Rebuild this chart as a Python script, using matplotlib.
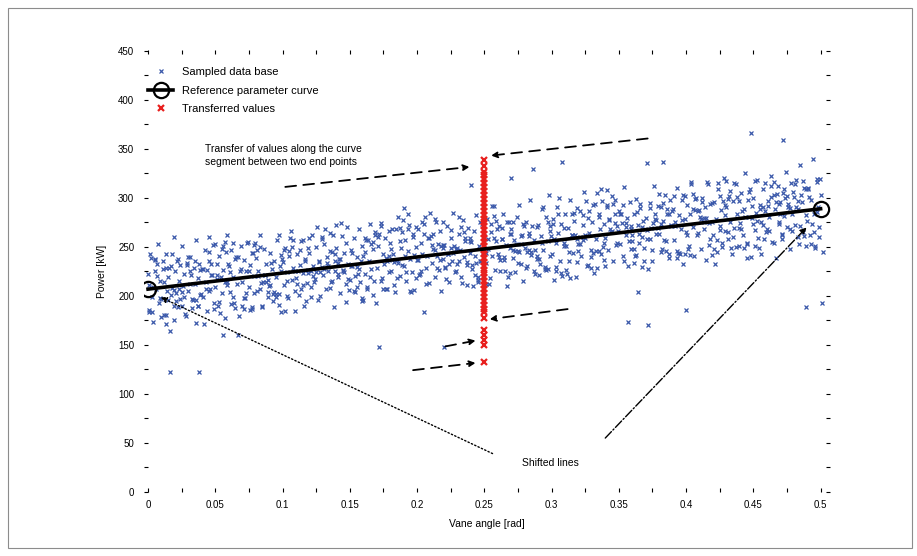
import matplotlib.pyplot as plt
from matplotlib.patches import Rectangle
from matplotlib.ticker import MultipleLocator

plt.rcParams['font.family'] = ['Liberation Sans', 'DejaVu Sans']

# measured samples (x = vane angle, y = power)
sample_x = [
    0.000, 0.001, 0.001, 0.002, 0.003, 0.004, 0.005, 0.006, 0.007, 0.008, 0.009,
    0.010, 0.011, 0.012, 0.013, 0.013, 0.014, 0.015, 0.016, 0.017, 0.018, 0.019,
    0.020, 0.021, 0.022, 0.022, 0.023, 0.024, 0.025, 0.026, 0.027, 0.028, 0.029,
    0.030, 0.031, 0.032, 0.033, 0.034, 0.035, 0.036, 0.036, 0.037, 0.038, 0.039,
    0.040, 0.041, 0.042, 0.043, 0.044, 0.045, 0.046, 0.047, 0.048, 0.049,
    0.050, 0.051, 0.052, 0.053, 0.054, 0.055, 0.056, 0.057, 0.058, 0.059, 0.059,
    0.060, 0.061, 0.062, 0.063, 0.064, 0.065, 0.066, 0.067, 0.068, 0.069,
    0.070, 0.071, 0.072, 0.073, 0.074, 0.075, 0.076, 0.077, 0.078, 0.079, 0.079,
    0.080, 0.081, 0.082, 0.083, 0.084, 0.085, 0.086, 0.087, 0.088, 0.089,
    0.090, 0.091, 0.092, 0.093, 0.094, 0.095, 0.096, 0.097, 0.098, 0.099, 0.099,
    0.100, 0.101, 0.102, 0.103, 0.104, 0.105, 0.106, 0.107, 0.108, 0.109,
    0.110, 0.111, 0.112, 0.113, 0.114, 0.115, 0.116, 0.117, 0.118, 0.119, 0.119,
    0.120, 0.121, 0.122, 0.123, 0.124, 0.125, 0.126, 0.127, 0.128, 0.129,
    0.130, 0.131, 0.132, 0.133, 0.134, 0.135, 0.136, 0.137, 0.138, 0.139, 0.139,
    0.140, 0.141, 0.142, 0.143, 0.144, 0.145, 0.146, 0.147, 0.148, 0.149,
    0.150, 0.151, 0.152, 0.153, 0.154, 0.155, 0.156, 0.157, 0.158, 0.159, 0.159,
    0.160, 0.161, 0.162, 0.163, 0.164, 0.165, 0.166, 0.167, 0.168, 0.169,
    0.170, 0.171, 0.172, 0.173, 0.174, 0.175, 0.176, 0.177, 0.178, 0.179, 0.179,
    0.180, 0.181, 0.182, 0.183, 0.184, 0.185, 0.186, 0.187, 0.188, 0.189,
    0.190, 0.190, 0.191, 0.192, 0.193, 0.194, 0.195, 0.196, 0.197, 0.198, 0.199,
    0.200, 0.201, 0.202, 0.203, 0.204, 0.205, 0.206, 0.207, 0.208, 0.209,
    0.210, 0.211, 0.212, 0.213, 0.214, 0.215, 0.216, 0.217, 0.218, 0.219, 0.219,
    0.220, 0.220, 0.221, 0.222, 0.223, 0.224, 0.225, 0.226, 0.227, 0.228, 0.229,
    0.230, 0.231, 0.232, 0.233, 0.234, 0.235, 0.236, 0.237, 0.238, 0.239,
    0.240, 0.240, 0.241, 0.242, 0.243, 0.244, 0.245, 0.246, 0.247, 0.248, 0.249,
    0.250, 0.251, 0.252, 0.253, 0.254, 0.255, 0.256, 0.257, 0.258, 0.259,
    0.260, 0.261, 0.262, 0.263, 0.264, 0.265, 0.266, 0.267, 0.268, 0.269, 0.269,
    0.270, 0.270, 0.271, 0.272, 0.273, 0.274, 0.275, 0.276, 0.277, 0.278, 0.279,
    0.280, 0.281, 0.282, 0.283, 0.284, 0.285, 0.286, 0.287, 0.288, 0.289,
    0.290, 0.291, 0.292, 0.293, 0.294, 0.295, 0.296, 0.297, 0.298, 0.299, 0.299,
    0.300, 0.301, 0.302, 0.303, 0.304, 0.305, 0.306, 0.307, 0.308, 0.309,
    0.310, 0.311, 0.312, 0.313, 0.314, 0.315, 0.316, 0.317, 0.318, 0.319, 0.319,
    0.320, 0.321, 0.322, 0.323, 0.324, 0.325, 0.326, 0.327, 0.328, 0.329,
    0.330, 0.331, 0.332, 0.333, 0.334, 0.335, 0.336, 0.337, 0.338, 0.339, 0.339,
    0.340, 0.341, 0.342, 0.343, 0.344, 0.345, 0.346, 0.347, 0.348, 0.349,
    0.350, 0.351, 0.352, 0.353, 0.354, 0.355, 0.356, 0.357, 0.358, 0.359, 0.359,
    0.360, 0.361, 0.362, 0.363, 0.364, 0.364, 0.365, 0.366, 0.367, 0.368, 0.369,
    0.370, 0.371, 0.371, 0.372, 0.373, 0.374, 0.375, 0.376, 0.377, 0.378, 0.379,
    0.380, 0.381, 0.382, 0.383, 0.383, 0.384, 0.385, 0.386, 0.387, 0.388, 0.389,
    0.390, 0.391, 0.392, 0.393, 0.394, 0.395, 0.396, 0.397, 0.398, 0.399,
    0.400, 0.400, 0.401, 0.402, 0.403, 0.404, 0.405, 0.406, 0.407, 0.408, 0.409,
    0.410, 0.411, 0.412, 0.413, 0.414, 0.415, 0.416, 0.417, 0.418, 0.419,
    0.420, 0.421, 0.422, 0.423, 0.424, 0.425, 0.426, 0.427, 0.428, 0.429, 0.429,
    0.430, 0.431, 0.432, 0.433, 0.434, 0.435, 0.436, 0.437, 0.438, 0.439,
    0.440, 0.441, 0.442, 0.443, 0.444, 0.445, 0.446, 0.447, 0.448, 0.448, 0.449,
    0.450, 0.451, 0.452, 0.453, 0.454, 0.455, 0.456, 0.457, 0.458, 0.459,
    0.460, 0.461, 0.462, 0.463, 0.464, 0.465, 0.466, 0.467, 0.468, 0.469, 0.469,
    0.470, 0.471, 0.472, 0.472, 0.473, 0.474, 0.475, 0.476, 0.477, 0.478, 0.479,
    0.480, 0.481, 0.482, 0.483, 0.484, 0.485, 0.486, 0.487, 0.488, 0.489, 0.489,
    0.490, 0.491, 0.492, 0.493, 0.494, 0.495, 0.496, 0.497, 0.498, 0.499, 0.500, 0.501, 0.502,
    0.016, 0.038, 0.056, 0.019, 0.045,
    # second measurement run
    0.001, 0.003, 0.005, 0.007, 0.009, 0.011, 0.013, 0.015, 0.017, 0.019,
    0.021, 0.023, 0.025, 0.027, 0.029, 0.031, 0.033, 0.035, 0.037, 0.039,
    0.041, 0.043, 0.045, 0.047, 0.049, 0.051, 0.053, 0.055, 0.057, 0.059,
    0.061, 0.063, 0.065, 0.067, 0.069, 0.071, 0.073, 0.075, 0.077, 0.079,
    0.081, 0.083, 0.085, 0.087, 0.089, 0.091, 0.093, 0.095, 0.097, 0.099,
    0.101, 0.103, 0.105, 0.107, 0.109, 0.111, 0.113, 0.115, 0.117, 0.119,
    0.121, 0.123, 0.125, 0.127, 0.129, 0.131, 0.133, 0.135, 0.137, 0.139,
    0.141, 0.143, 0.145, 0.147, 0.149, 0.151, 0.153, 0.155, 0.157, 0.159,
    0.161, 0.163, 0.165, 0.167, 0.169, 0.171, 0.173, 0.175, 0.177, 0.179,
    0.181, 0.183, 0.185, 0.187, 0.189, 0.191, 0.193, 0.195, 0.197, 0.199,
    0.201, 0.203, 0.205, 0.207, 0.209, 0.211, 0.213, 0.215, 0.217, 0.219,
    0.221, 0.223, 0.225, 0.227, 0.229, 0.231, 0.233, 0.235, 0.237, 0.239,
    0.241, 0.243, 0.245, 0.247, 0.249, 0.251, 0.253, 0.255, 0.257, 0.259,
    0.261, 0.263, 0.265, 0.267, 0.269, 0.271, 0.273, 0.275, 0.277, 0.279,
    0.281, 0.283, 0.285, 0.287, 0.289, 0.291, 0.293, 0.295, 0.297, 0.299,
    0.301, 0.303, 0.305, 0.307, 0.309, 0.311, 0.313, 0.315, 0.317, 0.319,
    0.321, 0.323, 0.325, 0.327, 0.329, 0.331, 0.333, 0.335, 0.337, 0.339,
    0.341, 0.343, 0.345, 0.347, 0.349, 0.351, 0.353, 0.355, 0.357, 0.359,
    0.361, 0.363, 0.365, 0.367, 0.369, 0.371, 0.373, 0.375, 0.377, 0.379,
    0.381, 0.383, 0.385, 0.387, 0.389, 0.391, 0.393, 0.395, 0.397, 0.399,
    0.401, 0.403, 0.405, 0.407, 0.409, 0.411, 0.413, 0.415, 0.417, 0.419,
    0.421, 0.423, 0.425, 0.427, 0.429, 0.431, 0.433, 0.435, 0.437, 0.439,
    0.441, 0.443, 0.445, 0.447, 0.449, 0.451, 0.453, 0.455, 0.457, 0.459,
    0.461, 0.463, 0.465, 0.467, 0.469, 0.471, 0.473, 0.475, 0.477, 0.479,
    0.481, 0.483, 0.485, 0.487, 0.489, 0.491, 0.493, 0.495, 0.497, 0.499,
    # third measurement run
    0.0015, 0.0035, 0.0055, 0.0075, 0.0095, 0.0115, 0.0135, 0.0155, 0.0175, 0.0195,
    0.0215, 0.0235, 0.0255, 0.0275, 0.0295, 0.0315, 0.0335, 0.0355, 0.0375, 0.0395,
    0.0415, 0.0435, 0.0455, 0.0475, 0.0495, 0.0515, 0.0535, 0.0555, 0.0575, 0.0595,
    0.0615, 0.0635, 0.0655, 0.0675, 0.0695, 0.0715, 0.0735, 0.0755, 0.0775, 0.0795,
    0.0815, 0.0835, 0.0855, 0.0875, 0.0895, 0.0915, 0.0935, 0.0955, 0.0975, 0.0995,
    0.1015, 0.1035, 0.1055, 0.1075, 0.1095, 0.1115, 0.1135, 0.1155, 0.1175, 0.1195,
    0.1215, 0.1235, 0.1255, 0.1275, 0.1295, 0.1315, 0.1335, 0.1355, 0.1375, 0.1395,
    0.1415, 0.1435, 0.1455, 0.1475, 0.1495, 0.1515, 0.1535, 0.1555, 0.1575, 0.1595,
    0.1615, 0.1635, 0.1655, 0.1675, 0.1695, 0.1715, 0.1735, 0.1755, 0.1775, 0.1795,
    0.1815, 0.1835, 0.1855, 0.1875, 0.1895, 0.1915, 0.1935, 0.1955, 0.1975, 0.1995,
    0.2015, 0.2035, 0.2055, 0.2075, 0.2095, 0.2115, 0.2135, 0.2155, 0.2175, 0.2195,
    0.2215, 0.2235, 0.2255, 0.2275, 0.2295, 0.2315, 0.2335, 0.2355, 0.2375, 0.2395,
    0.2415, 0.2435, 0.2455, 0.2475, 0.2495, 0.2515, 0.2535, 0.2555, 0.2575, 0.2595,
    0.2615, 0.2635, 0.2655, 0.2675, 0.2695, 0.2715, 0.2735, 0.2755, 0.2775, 0.2795,
    0.2815, 0.2835, 0.2855, 0.2875, 0.2895, 0.2915, 0.2935, 0.2955, 0.2975, 0.2995,
    0.3015, 0.3035, 0.3055, 0.3075, 0.3095, 0.3115, 0.3135, 0.3155, 0.3175, 0.3195,
    0.3215, 0.3235, 0.3255, 0.3275, 0.3295, 0.3315, 0.3335, 0.3355, 0.3375, 0.3395,
    0.3415, 0.3435, 0.3455, 0.3475, 0.3495, 0.3515, 0.3535, 0.3555, 0.3575, 0.3595,
    0.3615, 0.3635, 0.3655, 0.3675, 0.3695, 0.3715, 0.3735, 0.3755, 0.3775, 0.3795,
    0.3815, 0.3835, 0.3855, 0.3875, 0.3895, 0.3915, 0.3935, 0.3955, 0.3975, 0.3995,
    0.4015, 0.4035, 0.4055, 0.4075, 0.4095, 0.4115, 0.4135, 0.4155, 0.4175, 0.4195,
    0.4215, 0.4235, 0.4255, 0.4275, 0.4295, 0.4315, 0.4335, 0.4355, 0.4375, 0.4395,
    0.4415, 0.4435, 0.4455, 0.4475, 0.4495, 0.4515, 0.4535, 0.4555, 0.4575, 0.4595,
    0.4615, 0.4635, 0.4655, 0.4675, 0.4695, 0.4715, 0.4735, 0.4755, 0.4775, 0.4795,
    0.4815, 0.4835, 0.4855, 0.4875, 0.4895, 0.4915, 0.4935, 0.4955, 0.4975, 0.4995,
]
sample_y = [
    222, 186, 211, 239, 199, 173, 226, 207, 233, 193, 215,
    197, 228, 214, 181, 243, 205, 219, 164, 231, 208, 190,
    226, 203, 189, 238, 215, 197, 251, 210, 222, 180, 234,
    205, 240, 221, 188, 229, 212, 196, 257, 218, 233, 201,
    228, 199, 247, 214, 185, 236, 207, 221, 252, 193,
    209, 233, 190, 241, 219, 203, 227, 178, 245, 214, 262,
    231, 204, 247, 219, 193, 238, 212, 160, 226, 251,
    214, 237, 198, 226, 255, 209, 232, 187, 244, 220, 203,
    239, 205, 226, 262, 213, 190, 248, 221, 233, 199,
    210, 244, 228, 195, 236, 219, 257, 202, 231, 184, 225,
    235, 211, 249, 224, 198, 241, 266, 216, 229, 205,
    218, 243, 201, 232, 256, 223, 190, 238, 213, 249, 227,
    244, 209, 262, 231, 217, 250, 196, 236, 224, 258,
    221, 253, 207, 240, 231, 264, 214, 245, 189, 236, 226,
    249, 219, 238, 203, 261, 227, 244, 212, 270, 233,
    216, 247, 231, 259, 204, 240, 222, 268, 236, 195, 251,
    241, 222, 257, 209, 236, 273, 228, 248, 215, 262,
    229, 251, 148, 274, 218, 243, 259, 207, 236, 266, 224,
    254, 226, 243, 211, 268, 237, 281, 220, 249, 232,
    290, 231, 257, 215, 246, 272, 238, 224, 263, 206, 250,
    237, 268, 222, 254, 243, 184, 281, 229, 259, 213,
    261, 234, 248, 219, 276, 241, 227, 266, 205, 252, 238,
    148, 252, 229, 271, 243, 214, 259, 236, 285, 224, 248,
    233, 263, 247, 219, 278, 240, 256, 211, 269, 244,
    313, 255, 228, 266, 241, 283, 219, 251, 236, 273, 245,
    261, 234, 279, 248, 218, 265, 241, 292, 227, 256,
    243, 271, 226, 258, 284, 237, 252, 210, 275, 249, 263,
    320, 268, 239, 257, 224, 281, 246, 293, 233, 262, 215,
    249, 276, 231, 264, 298, 242, 330, 257, 222, 270,
    272, 238, 261, 289, 247, 228, 281, 256, 303, 241, 266,
    243, 279, 258, 226, 291, 264, 236, 273, 337, 251,
    284, 251, 269, 236, 298, 262, 244, 277, 219, 290, 258,
    253, 287, 241, 272, 306, 259, 231, 280, 264, 247,
    276, 244, 294, 258, 229, 284, 268, 309, 250, 273, 237,
    259, 291, 247, 278, 265, 302, 236, 284, 252, 271,
    287, 253, 274, 241, 311, 262, 280, 173, 296, 248, 268,
    256, 284, 241, 299, 272, 204, 263, 290, 230, 277, 249,
    280, 336, 258, 170, 295, 269, 247, 312, 284, 263, 292,
    263, 291, 248, 337, 277, 303, 256, 284, 239, 298, 271,
    289, 257, 276, 310, 244, 283, 268, 298, 233, 279,
    186, 265, 293, 251, 284, 316, 270, 241, 299, 262, 287,
    281, 248, 300, 268, 291, 237, 314, 274, 258, 295,
    262, 296, 279, 245, 309, 271, 288, 254, 320, 283, 266,
    291, 258, 302, 276, 243, 297, 269, 314, 284, 251,
    274, 305, 262, 289, 326, 253, 298, 281, 366, 240, 292,
    300, 267, 285, 318, 249, 293, 276, 309, 258, 287,
    268, 297, 281, 322, 255, 303, 289, 239, 312, 276, 294,
    296, 263, 359, 305, 282, 327, 270, 291, 248, 315, 284,
    301, 272, 318, 289, 253, 334, 296, 265, 310, 189, 283,
    277, 309, 262, 298, 340, 284, 251, 316, 291, 270, 303, 193, 245,
    122, 122, 160, 260, 260,
    # second measurement run
    184, 184, 238, 220, 198, 236, 229, 196, 201, 206,
    195, 207, 204, 199, 232, 212, 197, 236, 190, 227,
    228, 207, 245, 233, 187, 221, 194, 248, 214, 211,
    224, 199, 188, 240, 228, 187, 203, 226, 189, 252,
    247, 207, 189, 221, 204, 211, 202, 199, 191, 242,
    247, 200, 246, 250, 226, 212, 247, 211, 236, 223,
    199, 220, 224, 235, 260, 228, 234, 208, 215, 243,
    234, 238, 225, 254, 217, 231, 205, 209, 228, 198,
    259, 207, 219, 201, 265, 260, 215, 207, 239, 241,
    248, 235, 218, 269, 265, 241, 268, 205, 260, 270,
    237, 226, 263, 212, 259, 252, 247, 229, 237, 249,
    230, 243, 249, 244, 226, 236, 270, 265, 232, 256,
    232, 221, 214, 276, 277, 244, 258, 273, 259, 277,
    240, 258, 240, 276, 223, 247, 246, 234, 261, 273,
    229, 247, 245, 225, 238, 221, 254, 230, 228, 271,
    273, 254, 284, 223, 269, 227, 245, 262, 285, 235,
    260, 283, 262, 232, 240, 293, 246, 246, 243, 254,
    293, 279, 266, 274, 254, 284, 293, 270, 231, 271,
    234, 242, 254, 270, 236, 267, 290, 236, 279, 269,
    245, 295, 246, 284, 272, 302, 246, 244, 278, 302,
    262, 242, 289, 288, 264, 279, 280, 280, 252, 276,
    248, 257, 302, 250, 293, 299, 307, 260, 250, 297,
    268, 249, 254, 306, 280, 251, 277, 289, 272, 315,
    292, 301, 316, 296, 273, 262, 309, 302, 268, 266,
    314, 260, 271, 317, 309, 310, 253, 265, 286, 260,
    # third measurement run
    243, 209, 237, 253, 179, 181, 171, 229, 243, 175,
    236, 232, 190, 182, 240, 226, 196, 172, 190, 202,
    171, 227, 205, 221, 253, 217, 183, 251, 255, 233,
    192, 254, 240, 180, 190, 198, 254, 186, 244, 254,
    220, 250, 214, 214, 216, 234, 204, 202, 262, 238,
    185, 215, 259, 257, 185, 225, 207, 257, 195, 259,
    226, 214, 270, 200, 230, 268, 226, 246, 262, 272,
    222, 274, 224, 194, 206, 244, 220, 230, 214, 196,
    245, 257, 253, 255, 193, 263, 271, 233, 207, 237,
    268, 204, 234, 256, 278, 224, 284, 204, 242, 218,
    221, 275, 273, 241, 285, 263, 279, 253, 251, 275,
    217, 233, 267, 251, 249, 281, 213, 259, 235, 259,
    210, 234, 216, 236, 252, 212, 212, 292, 282, 268,
    237, 269, 225, 219, 263, 275, 253, 245, 253, 271,
    245, 261, 271, 247, 241, 233, 291, 227, 275, 261,
    216, 230, 300, 220, 254, 222, 218, 284, 262, 246,
    253, 257, 297, 287, 229, 223, 305, 281, 297, 231,
    308, 268, 294, 298, 266, 284, 236, 274, 256, 262,
    248, 286, 294, 260, 268, 228, 258, 274, 278, 304,
    273, 257, 289, 243, 287, 271, 239, 243, 303, 243,
    248, 314, 304, 300, 288, 296, 276, 316, 294, 242,
    233, 315, 267, 297, 317, 265, 249, 315, 301, 269,
    287, 281, 239, 309, 273, 317, 259, 243, 291, 265,
    266, 312, 254, 304, 284, 258, 300, 294, 290, 306,
    291, 297, 303, 261, 251, 301, 273, 249, 319, 319,
]

# reference parameter curve end points
ref_x = [0.0, 0.5]
ref_y = [207, 289]

# values transferred onto the line at x = 0.25
transfer_x = 0.25
transfer_y = [339, 333, 327, 323, 319, 315, 311, 307, 303, 299, 295, 291, 287,
              283, 279, 275, 271, 267, 263, 259, 255, 251, 247, 243, 239, 235,
              231, 227, 223, 219, 215, 211, 207, 203, 199, 195, 191, 187, 184,
              178, 165, 160, 155, 150, 133]

x_ticks = [0, 0.05, 0.1, 0.15, 0.2, 0.25, 0.3, 0.35, 0.4, 0.45, 0.5]
x_ticklabels = ['0', '0.05', '0.1', '0.15', '0.2', '0.25', '0.3', '0.35', '0.4', '0.45', '0.5']
y_ticks = [0, 50, 100, 150, 200, 250, 300, 350, 400, 450]

fig = plt.figure(figsize=(9.17, 5.56), dpi=100)
fig.patches.append(Rectangle((8 / 917, 8 / 556), 1 - 13 / 917, 1 - 16 / 556,
                             transform=fig.transFigure, fill=False,
                             edgecolor='#8c8c8c', lw=0.8))
ax = fig.add_axes([144 / 917, 64 / 556, 686 / 917, 442 / 556])

ax.plot(sample_x, sample_y, 'x', color='#3a58aa', ms=2.6, mew=0.9,
        label='Sampled data base', zorder=2)
ax.plot(ref_x, ref_y, '-o', color='black', lw=2.6, ms=11, mfc='none', mew=1.6,
        label='Reference parameter curve', zorder=4)
ax.plot([transfer_x] * len(transfer_y), transfer_y, 'x', color='#e8201e',
        ms=4.5, mew=1.6, label='Transferred values', zorder=3)

ax.set_xlim(-0.003, 0.507)
ax.set_ylim(0, 451)
ax.set_xticks(x_ticks)
ax.set_xticklabels(x_ticklabels)
ax.set_yticks(y_ticks)
ax.xaxis.set_minor_locator(MultipleLocator(0.025))
ax.yaxis.set_minor_locator(MultipleLocator(25))
ax.tick_params(which='both', direction='in', top=True, right=True,
               length=3, width=0.8, labelsize=7)
ax.tick_params(axis='x', pad=6)
ax.tick_params(axis='y', pad=7)
for s in ax.spines.values():
    s.set_visible(False)

ax.set_xlabel('Vane angle [rad]', fontsize=7.5, labelpad=6)
ax.set_ylabel('Power [kW]', fontsize=7.5, labelpad=8)

ax.legend(loc='upper left', bbox_to_anchor=(0.0, 0.971), frameon=False,
          fontsize=8, handlelength=2.2, labelspacing=0.75, borderaxespad=0.0)

dash = dict(arrowstyle='-|>', color='black', lw=1.3, linestyle=(0, (6, 4)),
            mutation_scale=9)
ax.text(0.042, 343, 'Transfer of values along the curve\nsegment between two end points',
        fontsize=7.5, va='center', ha='left', linespacing=1.4)
ax.annotate('', xy=(0.241, 332), xytext=(0.100, 311), arrowprops=dash)
ax.annotate('', xy=(0.253, 343), xytext=(0.3735, 361), arrowprops=dash)
ax.annotate('', xy=(0.252, 176), xytext=(0.314, 187), arrowprops=dash)
ax.annotate('', xy=(0.2455, 155), xytext=(0.219, 148), arrowprops=dash)
ax.annotate('', xy=(0.2455, 132), xytext=(0.195, 124), arrowprops=dash)

ax.text(0.299, 30, 'Shifted lines', fontsize=7.5, ha='center', va='center')
ax.annotate('', xy=(0.0075, 200), xytext=(0.258, 38),
            arrowprops=dict(arrowstyle='-|>', color='black', lw=1.0,
                            linestyle=':', mutation_scale=9))
ax.annotate('', xy=(0.491, 272), xytext=(0.3385, 53),
            arrowprops=dict(arrowstyle='-|>', color='black', lw=1.0,
                            linestyle='-.', mutation_scale=9))

fig.savefig('out.png', dpi=100)
